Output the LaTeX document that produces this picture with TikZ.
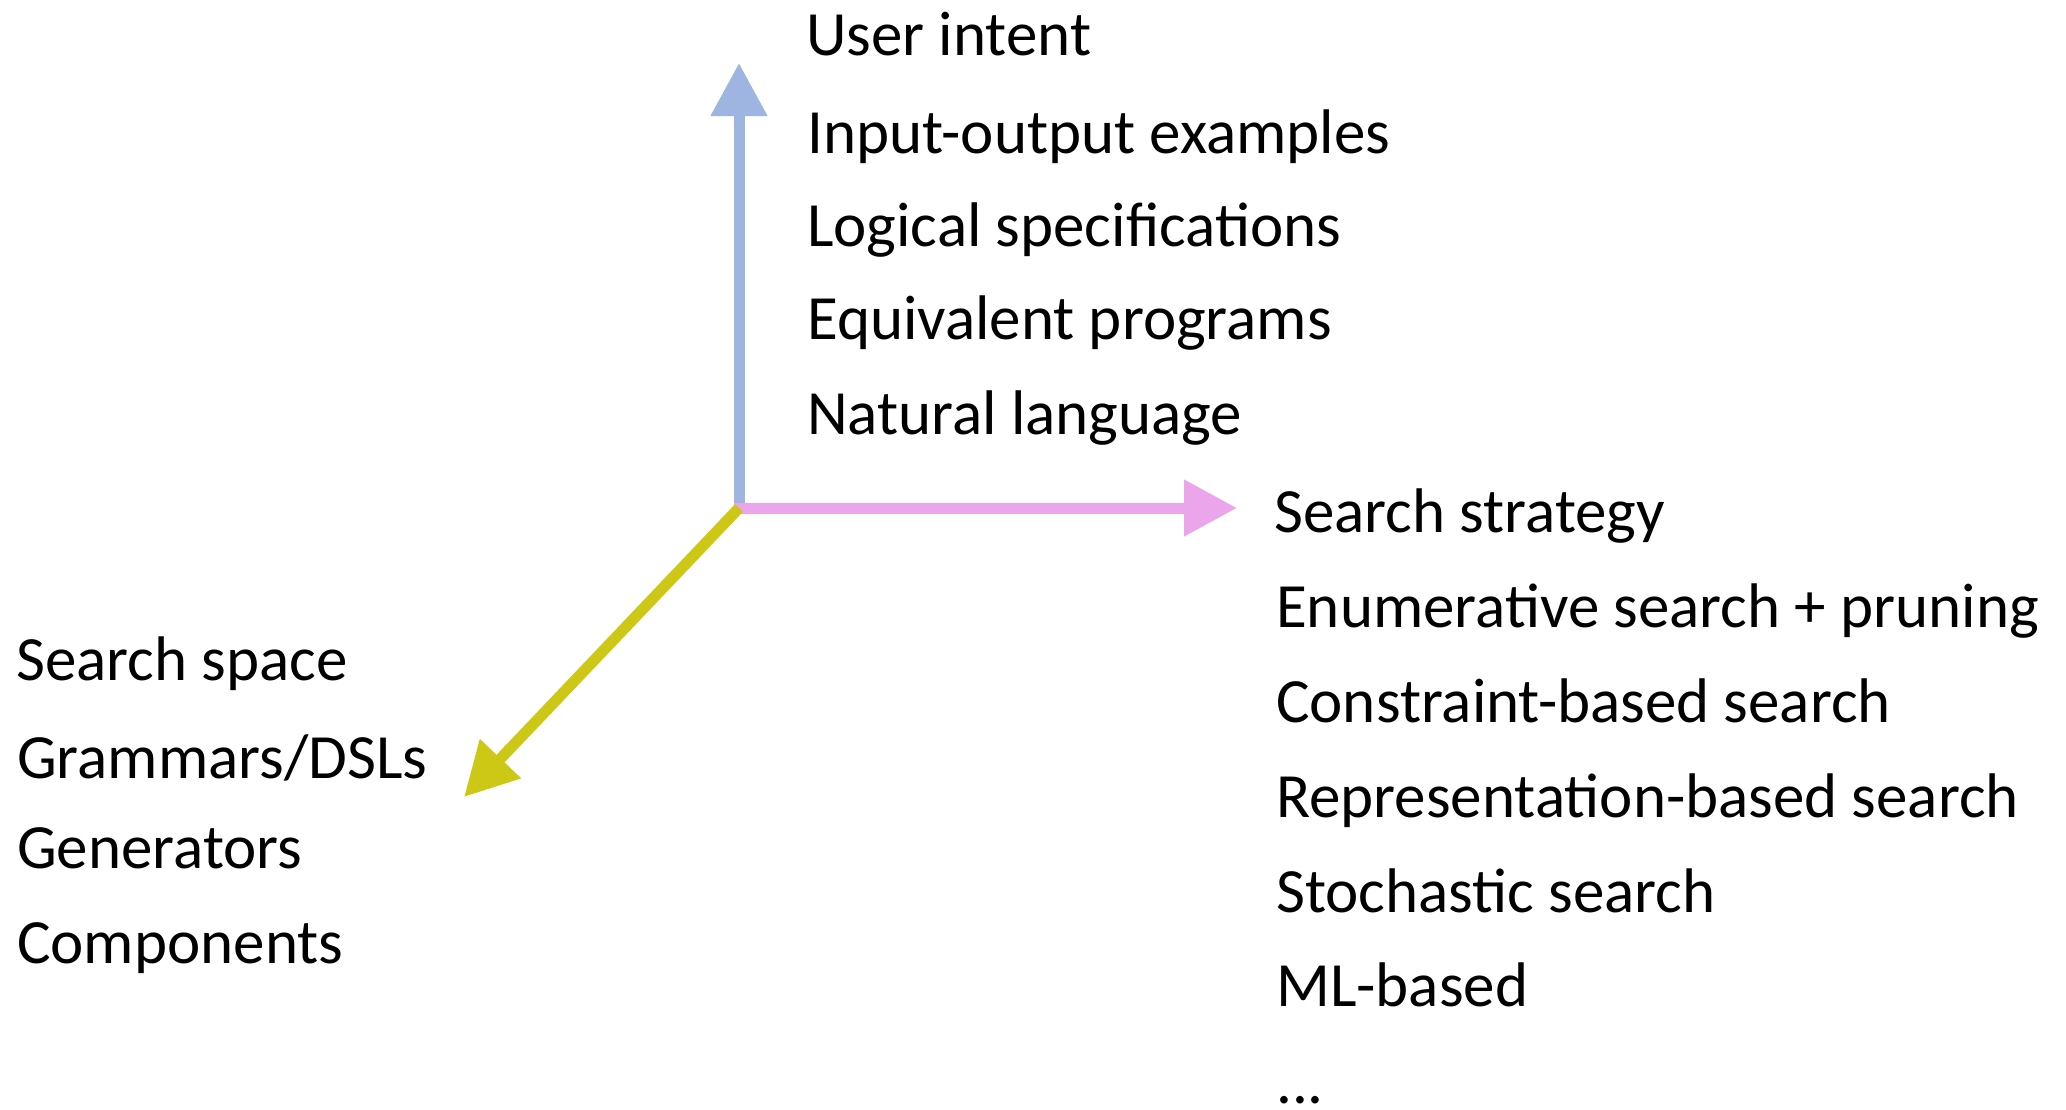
\documentclass[tikz,border=0pt]{standalone}
\usepackage{fontspec}
\setmainfont{Carlito}
\usetikzlibrary{arrows.meta}
\definecolor{axblue}{HTML}{9DB5E0}
\definecolor{axpink}{HTML}{EBA5EB}
\definecolor{axyellow}{HTML}{CCC815}
\begin{document}
\begin{tikzpicture}[x=1pt,y=-1pt,
  axis/.style={line width=11pt,-{Triangle[length=53pt,width=54pt]}},
  head/.style={anchor=base west,inner sep=0pt,font=\fontsize{63}{70}\selectfont},
  item/.style={anchor=base west,inner sep=0pt,font=\fontsize{63}{70}\selectfont}]
\useasboundingbox[fill=white] (0,0) rectangle (2066,1109);
\coordinate (O) at (739,508);
\coordinate (Oh) at (734,508);
\coordinate (U) at (739,63);
\coordinate (S) at (1237,508);
\coordinate (Y) at (464,797);
\draw[axis,axblue] (O) -- (U);
\draw[axis,axpink] (Oh) -- (S);
\draw[axis,axyellow] (O) -- (Y);
% User intent
\node[head] (ui) at (806,55) {User intent};
\node[item] (ui1) at (807,153) {Input-output examples};
\node[item] (ui2) at (807,246) {Logical specifications};
\node[item] (ui3) at (807,339) {Equivalent programs};
\node[item] (ui4) at (807,434) {Natural language};
% Search strategy
\node[head] (ss) at (1274,532) {Search strategy};
\node[item] (ss1) at (1276,627) {Enumerative search + pruning};
\node[item] (ss2) at (1276,722) {Constraint-based search};
\node[item] (ss3) at (1276,817) {Representation-based search};
\node[item] (ss4) at (1276,912) {Stochastic search};
\node[item] (ss5) at (1276,1006) {ML-based};
\node[item] (ss6) at (1276,1103) {...};
% Search space
\node[head] (sp) at (16,680) {Search space};
\node[item] (sp1) at (17,778) {Grammars/DSLs};
\node[item] (sp2) at (17,868) {Generators};
\node[item] (sp3) at (17,963) {Components};
\end{tikzpicture}
\end{document}
